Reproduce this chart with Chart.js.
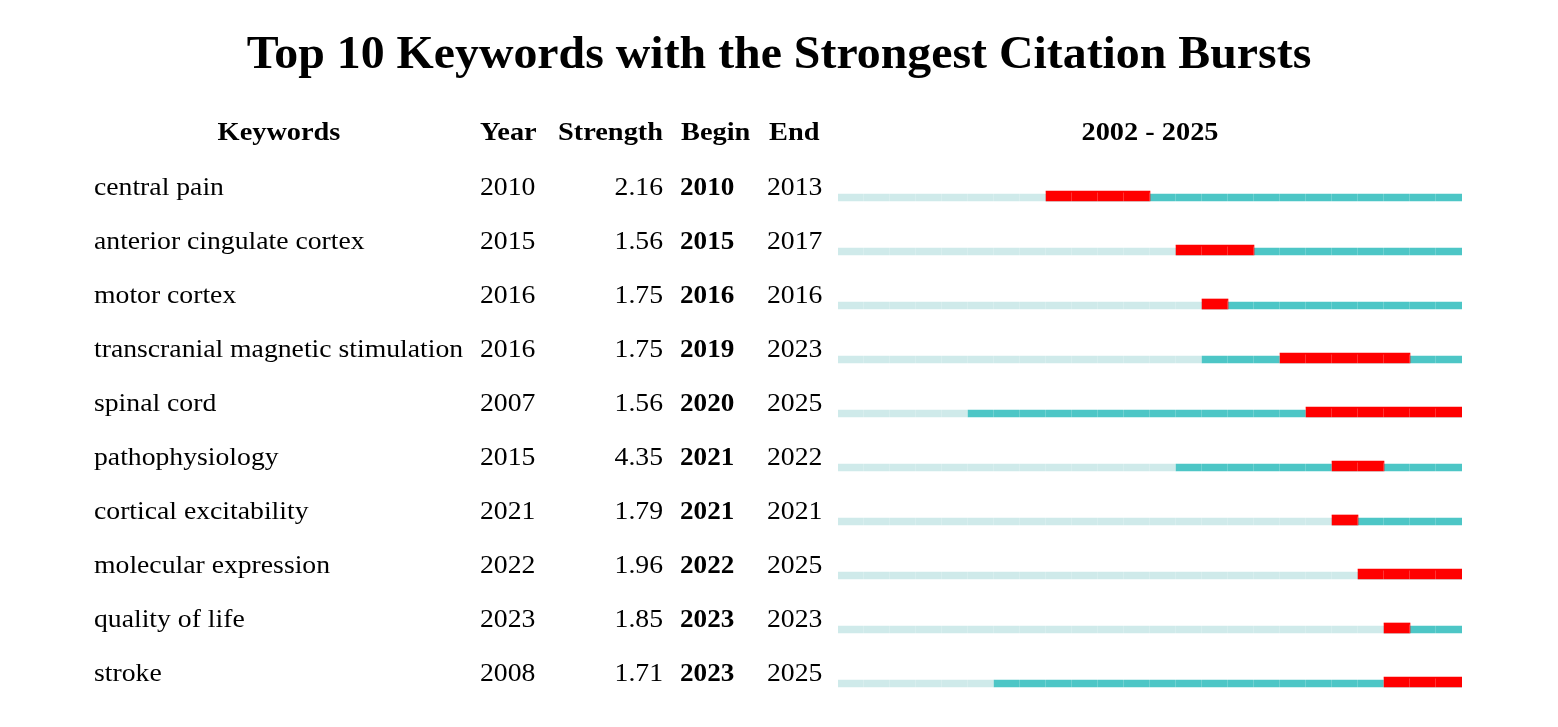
<!DOCTYPE html>
<html>
<head>
<meta charset="utf-8">
<script src="https://cdn.jsdelivr.net/npm/chart.js@4"></script>
<style>
html,body{margin:0;padding:0;background:#fff;}
#wrap{width:1558px;height:727px;position:relative;}
</style>
</head>
<body>
<div id="wrap"><canvas id="c" width="1558" height="727"></canvas></div>
<script>
const keywords = ["central pain","anterior cingulate cortex","motor cortex","transcranial magnetic stimulation","spinal cord","pathophysiology","cortical excitability","molecular expression","quality of life","stroke"];
const years = [2010,2015,2016,2016,2007,2015,2021,2022,2023,2008];
const strengths = ["2.16","1.56","1.75","1.75","1.56","4.35","1.79","1.96","1.85","1.71"];
const begins = [2010,2015,2016,2019,2020,2021,2021,2022,2023,2023];
const ends = [2013,2017,2016,2023,2025,2022,2021,2025,2023,2025];
const firstYear = 2002, lastYear = 2025;

const FONT = "'Liberation Serif','Times New Roman',serif";

function txt(ctx, s, x, y, align, font, sx) {
  ctx.save();
  ctx.font = font;
  ctx.textAlign = align;
  ctx.textBaseline = 'alphabetic';
  ctx.translate(x, y);
  ctx.scale(sx, 1);
  ctx.fillText(s, 0, 0);
  ctx.restore();
}

const textPlugin = {
  id: 'tableText',
  beforeDatasetDraw(chart, args) {
    if (args.index === 2) { chart.ctx.save(); chart.ctx.translate(0, -1.5); }
  },
  afterDatasetDraw(chart, args) {
    if (args.index === 2) { chart.ctx.restore(); }
  },
  afterDatasetsDraw(chart) {
    const ctx = chart.ctx, x = chart.scales.x, y = chart.scales.y;
    ctx.save();
    ctx.fillStyle = 'rgba(255,255,255,0.2)';
    for (let yr = firstYear + 1; yr <= lastYear; yr++) {
      const px = Math.round(x.getPixelForValue(yr));
      for (let i = 0; i < keywords.length; i++) {
        const cy = y.getPixelForValue(i);
        ctx.fillRect(px - 1, cy - 5, 1, 9);
      }
    }
    ctx.restore();
  },
  afterDraw(chart) {
    const ctx = chart.ctx, x = chart.scales.x, y = chart.scales.y;
    ctx.save();
    ctx.fillStyle = '#000';
    txt(ctx, "Top 10 Keywords with the Strongest Citation Bursts", 779, 68, 'center', "bold 46px " + FONT, 1.04);
    const hf = "bold 26px " + FONT, hs = 1.09;
    txt(ctx, "Keywords", 279, 140, 'center', hf, hs);
    txt(ctx, "Year", 480, 140, 'left', hf, hs);
    txt(ctx, "Strength", 663, 140, 'right', hf, hs);
    txt(ctx, "Begin", 681, 140, 'left', hf, hs);
    txt(ctx, "End", 769, 140, 'left', hf, hs);
    const mid = (x.getPixelForValue(firstYear) + x.getPixelForValue(lastYear + 1)) / 2;
    txt(ctx, firstYear + " - " + lastYear, mid, 140, 'center', hf, hs);
    const rf = "26px " + FONT, rb = "bold 26px " + FONT, rs = 1.065;
    for (let i = 0; i < keywords.length; i++) {
      const base = y.getPixelForValue(i) - 3;
      txt(ctx, keywords[i], 94, base, 'left', rf, rs);
      txt(ctx, String(years[i]), 480, base, 'left', rf, rs);
      txt(ctx, strengths[i], 663, base, 'right', rf, rs);
      txt(ctx, String(begins[i]), 680, base, 'left', rb, rs * 0.98);
      txt(ctx, String(ends[i]), 767, base, 'left', rf, rs);
    }
    ctx.restore();
  }
};

new Chart(document.getElementById('c'), {
  type: 'bar',
  data: {
    labels: keywords,
    datasets: [
      { data: keywords.map((k,i) => [firstYear, years[i]]), backgroundColor: '#CFEAEA', barThickness: 7, grouped: false, order: 3 },
      { data: keywords.map((k,i) => [years[i], lastYear + 1]), backgroundColor: '#4DC6C6', barThickness: 7, grouped: false, order: 2 },
      { data: keywords.map((k,i) => [begins[i], ends[i] + 1]), backgroundColor: '#FF0000', barThickness: 10, grouped: false, order: 1 }
    ]
  },
  options: {
    indexAxis: 'y',
    responsive: false,
    animation: false,
    layout: { padding: { left: 838, right: 96, top: 170.5, bottom: 16.5 } },
    plugins: { legend: { display: false }, tooltip: { enabled: false }, title: { display: false } },
    scales: {
      x: { type: 'linear', min: firstYear, max: lastYear + 1, display: false },
      y: { type: 'category', display: false, offset: true }
    }
  },
  plugins: [textPlugin]
});
</script>
</body>
</html>
